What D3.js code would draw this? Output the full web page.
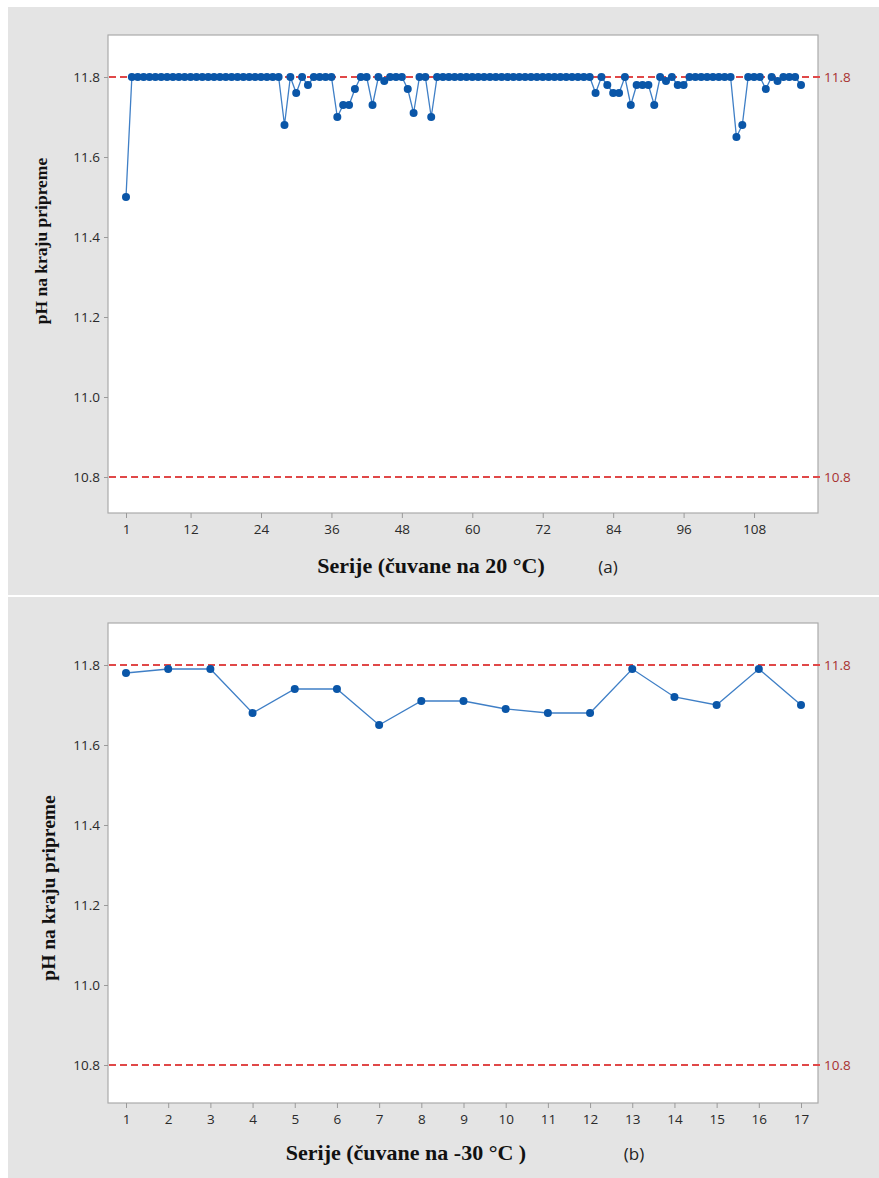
<!DOCTYPE html>
<html>
<head>
<meta charset="utf-8">
<script src="https://cdn.jsdelivr.net/npm/d3@7"></script>
<style>
  html, body { margin: 0; padding: 0; background: #ffffff; }
  svg { display: block; }
</style>
</head>
<body>
<svg id="chart" width="879" height="1178"></svg>
<script>
// ---------- DATA ----------
// Panel (a): pH at end of preparation, series stored at 20 °C (series 1..116)
const phA = [
  11.50, 11.80, 11.80, 11.80, 11.80, 11.80, 11.80, 11.80, 11.80, 11.80,
  11.80, 11.80, 11.80, 11.80, 11.80, 11.80, 11.80, 11.80, 11.80, 11.80,
  11.80, 11.80, 11.80, 11.80, 11.80, 11.80, 11.80, 11.68, 11.80, 11.76,
  11.80, 11.78, 11.80, 11.80, 11.80, 11.80, 11.70, 11.73, 11.73, 11.77,
  11.80, 11.80, 11.73, 11.80, 11.79, 11.80, 11.80, 11.80, 11.77, 11.71,
  11.80, 11.80, 11.70, 11.80, 11.80, 11.80, 11.80, 11.80, 11.80, 11.80,
  11.80, 11.80, 11.80, 11.80, 11.80, 11.80, 11.80, 11.80, 11.80, 11.80,
  11.80, 11.80, 11.80, 11.80, 11.80, 11.80, 11.80, 11.80, 11.80, 11.80,
  11.76, 11.80, 11.78, 11.76, 11.76, 11.80, 11.73, 11.78, 11.78, 11.78,
  11.73, 11.80, 11.79, 11.80, 11.78, 11.78, 11.80, 11.80, 11.80, 11.80,
  11.80, 11.80, 11.80, 11.80, 11.65, 11.68, 11.80, 11.80, 11.80, 11.77,
  11.80, 11.79, 11.80, 11.80, 11.80, 11.78
];
const xTicksA = [1, 12, 24, 36, 48, 60, 72, 84, 96, 108];

// Panel (b): pH at end of preparation, series stored at -30 °C (series 1..17)
const seriesB = [1, 2, 3, 4, 5, 6, 7, 8, 9, 10, 11, 12, 13, 14, 15, 16, 17];
const phB = [11.78, 11.79, 11.79, 11.68, 11.74, 11.74, 11.65, 11.71, 11.71,
             11.69, 11.68, 11.68, 11.79, 11.72, 11.70, 11.79, 11.70];

const yTicks = [10.8, 11.0, 11.2, 11.4, 11.6, 11.8];
const limits = [11.8, 10.8];
const yTitle = "pH na kraju pripreme";
const xTitleA = "Serije (čuvane na 20 °C)";
const xTitleB = "Serije (čuvane na -30 °C )";

// ---------- DRAW ----------
const svg = d3.select("#chart");
const sans = "'Open Sans', 'Noto Sans', sans-serif";
const serif = "'Liberation Serif', 'DejaVu Serif', serif";

function panel(cfg) {
  const g = svg.append("g");
  g.append("rect").attr("x", cfg.px).attr("y", cfg.py).attr("width", cfg.pw).attr("height", cfg.ph)
    .attr("fill", "#e4e4e4");

  const x = d3.scaleLinear().domain(cfg.xDomain).range([126, 801]);
  const y = d3.scaleLinear().domain(cfg.yDomain).range([cfg.fy + cfg.fh, cfg.fy]);

  g.append("rect").attr("x", 108).attr("y", cfg.fy).attr("width", 710).attr("height", cfg.fh)
    .attr("fill", "#ffffff").attr("stroke", "#ababab").attr("stroke-width", 1.2);

  const yAxis = d3.axisLeft(y).tickValues(yTicks).tickFormat(d3.format(".1f")).tickSize(4).tickPadding(4);
  const ya = g.append("g").attr("transform", "translate(108,0)").call(yAxis);
  ya.select(".domain").remove();
  ya.selectAll("line").attr("stroke", "#9a9a9a");
  ya.selectAll("text").attr("font-family", sans).attr("font-size", 13.5).attr("fill", "#2a2a2a");

  const xAxis = d3.axisBottom(x).tickValues(cfg.xTicks).tickFormat(d3.format("d")).tickSize(5).tickPadding(6);
  const xa = g.append("g").attr("transform", `translate(0,${cfg.fy + cfg.fh})`).call(xAxis);
  xa.select(".domain").remove();
  xa.selectAll("line").attr("stroke", "#9a9a9a");
  xa.selectAll("text").attr("font-family", sans).attr("font-size", 13.5).attr("fill", "#2a2a2a");

  limits.forEach(v => {
    g.append("line").attr("x1", 109).attr("x2", 820).attr("y1", y(v)).attr("y2", y(v))
      .attr("stroke", "#e04848").attr("stroke-width", 1.8).attr("stroke-dasharray", "7,4");
    g.append("text").attr("x", 824).attr("y", y(v)).attr("dy", "0.35em")
      .attr("font-family", sans).attr("font-size", 13.5)
      .attr("fill", "#a83232").text(d3.format(".1f")(v));
  });

  const line = d3.line().x(d => x(d[0])).y(d => y(d[1]));
  g.append("path").datum(cfg.data).attr("d", line).attr("fill", "none")
    .attr("stroke", "#3f7fc6").attr("stroke-width", 1.3);
  g.selectAll("circle.pt").data(cfg.data).enter().append("circle").attr("class", "pt")
    .attr("cx", d => x(d[0])).attr("cy", d => y(d[1])).attr("r", cfg.r).attr("fill", "#0a56a8");

  g.append("text").attr("transform", `translate(${cfg.ytx},${cfg.yty}) rotate(-90)`)
    .attr("text-anchor", "middle").attr("font-family", serif)
    .attr("font-weight", "bold").attr("font-size", cfg.ytSize).attr("fill", "#111111").text(yTitle);
  g.append("text").attr("x", cfg.xtx).attr("y", cfg.xty).attr("text-anchor", "middle")
    .attr("font-family", serif)
    .attr("font-weight", "bold").attr("font-size", 22).attr("fill", "#111111").text(cfg.xTitle);
  g.append("text").attr("x", cfg.lx).attr("y", cfg.xty).attr("text-anchor", "middle")
    .attr("font-family", sans).attr("font-size", 17)
    .attr("fill", "#222222").text(cfg.label);
}

panel({
  px: 8, py: 7, pw: 871, ph: 588,
  fy: 35, fh: 478,
  xDomain: [1, phA.length], yDomain: [10.71, 11.905],
  xTicks: xTicksA,
  data: phA.map((v, i) => [i + 1, v]),
  r: 4,
  ytx: 47, yty: 241, ytSize: 17.5,
  xTitle: xTitleA, xtx: 431, xty: 573, lx: 608, label: "(a)"
});

panel({
  px: 8, py: 597, pw: 871, ph: 581,
  fy: 623, fh: 480,
  xDomain: [1, 17], yDomain: [10.705, 11.905],
  xTicks: seriesB,
  data: seriesB.map((s, i) => [s, phB[i]]),
  r: 4,
  ytx: 55, yty: 888, ytSize: 19.5,
  xTitle: xTitleB, xtx: 406, xty: 1160, lx: 634, label: "(b)"
});
</script>
</body>
</html>
